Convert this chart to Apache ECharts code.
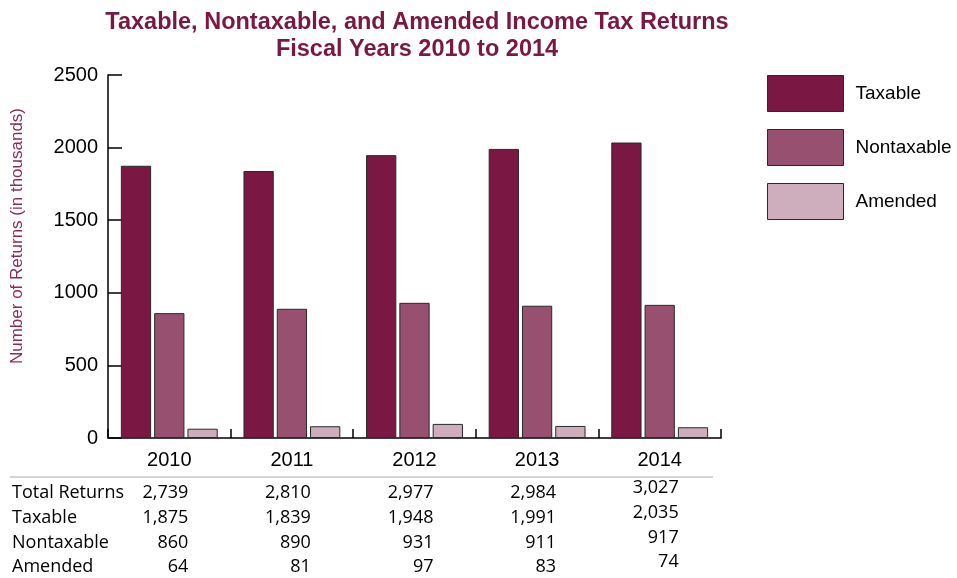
<!DOCTYPE html>
<html>
<head>
<meta charset="utf-8">
<script src="https://cdn.jsdelivr.net/npm/echarts@6/dist/echarts.min.js"></script>
<style>
  html, body { margin: 0; padding: 0; background: #fff; }
  #chart { width: 957px; height: 578px; }
</style>
</head>
<body>
<div id="chart"></div>
<script>
// Fiscal years and return counts (in thousands)
const years = ['2010', '2011', '2012', '2013', '2014'];
const taxable = [1875, 1839, 1948, 1991, 2035];
const nontaxable = [860, 890, 931, 911, 917];
const amended = [64, 81, 97, 83, 74];
const totals = [2739, 2810, 2977, 2984, 3027];
const rowLabels = ['Total Returns', 'Taxable', 'Nontaxable', 'Amended'];
const yTicks = [0, 500, 1000, 1500, 2000, 2500];
const yAxisTitle = 'Number of Returns (in thousands)';

const colors = { taxable: '#7A1843', nontaxable: '#97506F', amended: '#CEADBD' };
const titleColor = '#7A1843';
const arial = '"Liberation Sans", Arial, sans-serif';
const tableFont = '"Open Sans", "Liberation Sans", sans-serif';

const chart = echarts.init(document.getElementById('chart'), null, { renderer: 'canvas' });

function barSeries(name, data, color) {
  return {
    name: name,
    type: 'bar',
    data: data,
    barGap: '10%',
    barCategoryGap: '21%',
    itemStyle: { color: color, borderColor: '#2a2a2a', borderWidth: 1 }
  };
}

chart.setOption({
  animation: false,
  title: {
    text: 'Taxable, Nontaxable, and Amended Income Tax Returns\nFiscal Years 2010 to 2014',
    left: 412,
    top: 4,
    textAlign: 'center',
    textStyle: {
      color: titleColor,
      fontFamily: arial,
      fontWeight: 'bold',
      fontSize: 23.5,
      lineHeight: 27
    }
  },
  legend: {
    orient: 'vertical',
    left: 762,
    top: 70,
    itemWidth: 76,
    itemHeight: 36,
    itemGap: 17,
    icon: 'rect',
    itemStyle: { borderColor: '#2a2a2a', borderWidth: 1 },
    textStyle: { fontSize: 19, color: '#000', fontFamily: arial, padding: [0, 0, 0, 7] },
    data: ['Taxable', 'Nontaxable', 'Amended']
  },
  grid: { left: 108, right: 236, top: 75, bottom: 140, containLabel: false, outerBoundsMode: 'none' },
  xAxis: {
    type: 'category',
    data: years,
    axisLine: { lineStyle: { color: '#000', width: 1.5 } },
    axisTick: { show: true, inside: true, length: 9, alignWithLabel: false, lineStyle: { color: '#000', width: 1.5 } },
    axisLabel: { margin: 12, fontSize: 20, color: '#000', fontFamily: arial }
  },
  yAxis: {
    type: 'value',
    min: yTicks[0],
    max: yTicks[yTicks.length - 1],
    interval: 500,
    splitLine: { show: false },
    axisLine: { show: true, lineStyle: { color: '#000', width: 1.5 } },
    axisTick: { show: true, inside: true, length: 14, lineStyle: { color: '#000', width: 1.5 } },
    axisLabel: { margin: 10, fontSize: 20, color: '#000', fontFamily: arial, formatter: v => String(v) }
  },
  series: [
    barSeries('Taxable', taxable, colors.taxable),
    barSeries('Nontaxable', nontaxable, colors.nontaxable),
    barSeries('Amended', amended, colors.amended)
  ]
});

// Rotated y-axis title, sitting a little above the axis midpoint
const elements = [{
  type: 'text',
  x: 17,
  y: 236,
  rotation: Math.PI / 2,
  style: { text: yAxisTitle, fontSize: 17, fontFamily: arial, fill: '#8C2B5A', align: 'center', verticalAlign: 'middle' }
}];

// Data table under the chart, columns aligned with the category centres
const fmt = v => v.toLocaleString('en-US');
const rows = [totals, taxable, nontaxable, amended];
const rowY = [493, 518, 543, 567];
elements.push({
  type: 'line',
  shape: { x1: 10, y1: 477, x2: 713, y2: 477 },
  style: { stroke: '#d4d4d4', lineWidth: 2 }
});
rowLabels.forEach((label, r) => {
  elements.push({
    type: 'text', x: 12, y: rowY[r],
    style: { text: label, fontSize: 18, fontFamily: tableFont, fill: '#000', align: 'left', verticalAlign: 'middle' }
  });
});
years.forEach((yr, c) => {
  const cx = chart.convertToPixel({ xAxisIndex: 0 }, yr);
  const shift = c === years.length - 1 ? -5 : 0;
  rows.forEach((vals, r) => {
    elements.push({
      type: 'text', x: cx + 19, y: rowY[r] + shift,
      style: { text: fmt(vals[c]), fontSize: 18, fontFamily: tableFont, fill: '#000', align: 'right', verticalAlign: 'middle' }
    });
  });
});
chart.setOption({ graphic: { elements: elements } });
</script>
</body>
</html>
